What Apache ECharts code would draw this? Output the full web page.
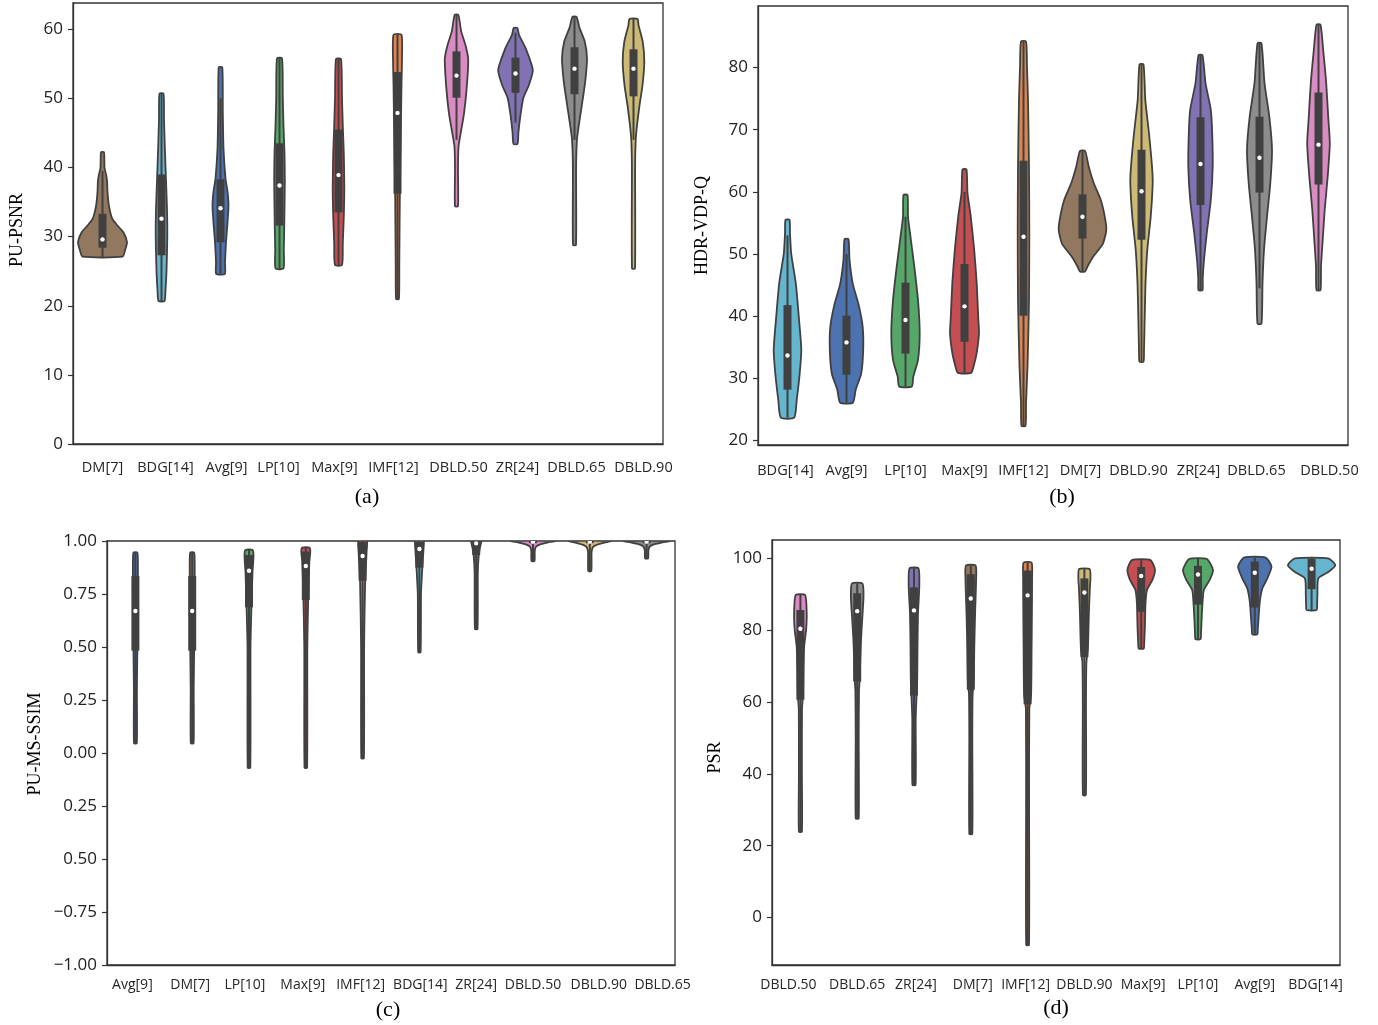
<!DOCTYPE html>
<html><head><meta charset="utf-8">
<script src="https://cdn.jsdelivr.net/npm/echarts@6/dist/echarts.min.js"></script>
<style>html,body{margin:0;padding:0;background:#fff}#c{width:1378px;height:1025px}</style>
</head><body><div id="c"></div>
<script>
// ---------- (a) PU-PSNR ----------
const catsA = ['DM[7]','BDG[14]','Avg[9]','LP[10]','Max[9]','IMF[12]','DBLD.50','ZR[24]','DBLD.65','DBLD.90'];
// [min, whiskerLow, q1, median, q3, whiskerHigh, max]
const statsA = [
  [27.1,27.1,28.4,29.6,33.3,39.5,42.2],
  [20.7,20.7,27.3,32.6,39.0,50.7,50.7],
  [24.6,24.6,29.2,34.1,38.3,50.0,54.5],
  [25.4,25.4,31.6,37.4,43.5,55.8,55.8],
  [25.9,25.9,33.5,38.9,45.5,55.7,55.7],
  [21.0,21.0,36.2,47.9,53.8,59.2,59.2],
  [34.4,44.0,50.1,53.3,56.8,62.1,62.1],
  [43.4,46.5,50.8,53.6,55.9,59.5,60.2],
  [28.8,44.0,50.6,54.3,57.4,61.8,61.8],
  [25.4,44.0,50.3,54.3,57.1,61.5,61.5]
];
// density profile [value, density]
const densA = [
  [[27.1,20],[28.0,22.5],[29.2,24.5],[30.6,21],[31.6,15],[32.6,9.7],[34.6,6.3],[36.5,5],[38.0,4.6],[38.9,3.7],[40.0,2],[42.2,1.5]],
  [[20.7,3],[22.3,4],[25,5],[30,5.8],[34,5.5],[38.9,4.3],[43,3.3],[47,2.5],[50.7,2]],
  [[24.6,4.3],[26.3,4.5],[29.2,5.5],[32,7],[34.5,8],[36.5,7],[38.4,5],[42.7,3],[48,2.3],[54.5,1.8]],
  [[25.4,4],[28,4.3],[32,4.8],[38,5.3],[42,5],[46,4],[50,3.3],[55.8,2.5]],
  [[25.9,3.5],[29,4.3],[33,5.3],[37,5.8],[42,5.3],[46,4.3],[50,3.5],[55.7,2.5]],
  [[21,1.4],[25.8,1.8],[35.5,2.3],[45,3.3],[52,4],[55,4.4],[59.2,4]],
  [[34.4,1.5],[40,1.5],[43,2],[44.4,3.5],[47.8,7.5],[51.7,10.3],[55.7,11.7],[57.7,9],[59.7,4.7],[62.1,1.8]],
  [[43.4,2],[45.2,3],[47.6,5],[50,7.7],[51.9,13.3],[54.1,17.3],[57.3,10],[59.2,3.5],[60.2,1.8]],
  [[28.8,1.5],[40,1.6],[44.1,2.5],[46.1,4.3],[49,7.3],[52.4,10.7],[55.8,12.5],[58.2,10.3],[60.2,5],[61.8,2]],
  [[25.4,1.5],[40,1.6],[44,2.2],[46.1,3.5],[49,6],[51.9,9],[55.3,10.8],[58.2,9.2],[60.6,5],[61.5,4]]
];
const ticksA = [0,10,20,30,40,50,60];

// ---------- (b) HDR-VDP-Q ----------
const catsB = ['BDG[14]','Avg[9]','LP[10]','Max[9]','IMF[12]','DM[7]','DBLD.90','ZR[24]','DBLD.65','DBLD.50'];
const statsB = [
  [23.7,23.7,28.2,33.7,41.8,53.0,55.5],
  [26.1,26.1,30.6,35.8,40.1,50.0,52.4],
  [28.7,28.7,34.0,39.4,45.4,56.0,59.5],
  [30.9,30.9,35.9,41.6,48.4,60.0,63.6],
  [22.4,22.4,40.1,52.8,65.0,84.2,84.2],
  [47.2,47.2,52.5,56.0,59.6,66.6,66.6],
  [32.7,32.7,52.3,60.1,66.8,80.5,80.5],
  [44.2,44.2,57.9,64.5,72.0,82.0,82.0],
  [38.8,44.5,59.9,65.5,72.1,83.9,83.9],
  [44.2,44.2,61.2,67.6,76.0,86.9,86.9]
];
const densB = [
  [[23.7,6.7],[26.5,9.2],[30.8,12.2],[34.6,13.8],[39.9,11.3],[45.3,8.3],[50.1,3.7],[53.3,2.5],[55.5,2]],
  [[26.1,6.3],[28.2,9.2],[30.8,14.7],[34.6,16.7],[38.3,16.2],[41.6,12.5],[45.3,6.2],[49.1,3],[52.4,2]],
  [[28.7,6.3],[30.3,7.8],[33,12.5],[37.3,14.2],[42.6,12.5],[48,8.8],[53.4,4.5],[56,2.5],[59.5,2]],
  [[30.9,6.7],[31.9,9],[34.1,12.2],[37.3,14.5],[39.9,13.7],[45.3,12.2],[50.7,9.7],[56,6.3],[59.8,3],[63.6,2]],
  [[22.4,2],[26,2.5],[31.9,4],[42.6,5.5],[53.4,5.8],[64.1,5.5],[74.8,4.5],[80,3.5],[84.2,2.5]],
  [[47.2,2.5],[48,5],[49.6,10.8],[51.7,20.5],[53.9,23.8],[56,22.3],[58.7,18.3],[61.4,11.3],[64.1,6.2],[66.6,2.5]],
  [[32.7,2],[34.6,2.5],[39.9,3.2],[45.3,4],[50.7,5.8],[56,9.2],[61.4,11.2],[64.1,10.5],[69.4,7.5],[74.8,3.8],[80.5,2]],
  [[44.2,2],[46,2.2],[49.1,3.5],[53.4,6.3],[58.7,10.3],[64.1,12.2],[69.4,11.7],[73.2,10.3],[77.5,5],[82,2]],
  [[38.8,2],[45.3,3],[50.7,4.5],[56,7.5],[61.4,10.8],[66.8,12.5],[72.1,9.8],[77.5,5],[83.9,2]],
  [[44.2,2],[48,2.5],[51.8,4],[57.1,6.2],[62.5,9.2],[67.8,11.3],[72.1,9.7],[77.5,7.7],[82.8,4.7],[86.9,2]]
];
const ticksB = [20,30,40,50,60,70,80];

// ---------- (c) PU-MS-SSIM ----------
const catsC = ['Avg[9]','DM[7]','LP[10]','Max[9]','IMF[12]','BDG[14]','ZR[24]','DBLD.50','DBLD.90','DBLD.65'];
const statsC = [
  [0.046,0.046,0.483,0.670,0.835,0.945,0.945],
  [0.046,0.046,0.483,0.670,0.835,0.945,0.945],
  [-0.069,-0.069,0.687,0.860,0.934,0.958,0.958],
  [-0.069,-0.069,0.722,0.882,0.950,0.969,0.969],
  [-0.025,-0.025,0.813,0.929,0.997,1.0,1.0],
  [0.475,0.475,0.874,0.962,0.997,1.0,1.0],
  [0.585,0.585,0.934,0.989,0.998,1.0,1.0],
  [0.906,0.906,0.990,0.997,1.0,1.0,1.0],
  [0.858,0.858,0.990,0.997,1.0,1.0,1.0],
  [0.918,0.918,0.990,0.997,1.0,1.0,1.0]
];
const densC = [
  [[0.046,1.4],[0.3,1.5],[0.5,2],[0.7,2.5],[0.85,2.5],[0.945,2]],
  [[0.046,1.4],[0.3,1.5],[0.5,2],[0.7,2.5],[0.85,2.5],[0.945,2]],
  [[-0.069,1.3],[0.5,1.5],[0.7,2.5],[0.85,3.5],[0.93,4.5],[0.958,3.5]],
  [[-0.069,1.3],[0.5,1.5],[0.75,2.5],[0.9,3.5],[0.95,4.5],[0.969,3.5]],
  [[-0.025,1.3],[0.5,1.5],[0.8,2.5],[0.95,4],[1.0,4.2]],
  [[0.475,1.2],[0.75,1.6],[0.88,3],[0.97,4.2],[1.0,4.2]],
  [[0.585,1.3],[0.85,1.6],[0.93,2.5],[0.97,3.8],[0.99,4.8],[1.0,5]],
  [[0.906,1.5],[0.95,1.7],[0.965,2.2],[0.975,3.5],[0.985,8],[0.993,15],[1.0,22]],
  [[0.858,1.5],[0.94,1.7],[0.96,2.2],[0.973,3.5],[0.984,8],[0.993,15],[1.0,21]],
  [[0.918,1.5],[0.955,1.8],[0.967,2.4],[0.977,4],[0.986,9],[0.994,16],[1.0,23]]
];
const ticksC = [-1,-0.75,-0.5,-0.25,0,0.25,0.5,0.75,1];
const tickLabelsC = ['\u22121.00','\u22120.75','0.50','0.25','0.00','0.25','0.50','0.75','1.00'];

// ---------- (d) PSR ----------
const catsD = ['DBLD.50','DBLD.65','ZR[24]','DM[7]','IMF[12]','DBLD.90','Max[9]','LP[10]','Avg[9]','BDG[14]'];
const statsD = [
  [23.9,23.9,60.6,80.4,85.6,89.8,89.8],
  [27.6,27.6,65.7,85.3,90.3,93.0,93.0],
  [36.9,36.9,61.8,85.5,91.9,97.2,97.2],
  [23.3,23.3,63.4,88.8,95.6,98.0,98.0],
  [-7.6,-7.6,59.4,89.7,96.6,98.8,98.8],
  [34.1,34.1,72.5,90.5,94.4,97.0,97.0],
  [74.9,74.9,85.1,95.1,97.6,99.5,99.5],
  [77.5,77.5,87.1,95.5,97.9,99.8,99.8],
  [78.8,78.8,86.3,96.0,99.1,100.2,100.2],
  [85.6,85.6,91.4,97.1,99.9,100.0,100.0]
];
const densD = [
  [[23.9,1.5],[40,1.5],[58,1.6],[62,2.6],[68.9,3],[75.4,3.7],[80.1,5.7],[84.7,6.3],[89.8,4.7]],
  [[27.6,1.5],[50,1.5],[63,1.8],[67,2.7],[70.8,3],[77.3,3.8],[83.8,5.2],[89.3,6.3],[93,5.3]],
  [[36.9,1.6],[55,1.7],[62,2.6],[66.1,3.2],[75.4,3.5],[84.7,4],[92.1,5.3],[97.2,4.5]],
  [[23.3,1.5],[50,1.5],[62,1.8],[66,3],[75.4,3.5],[84.7,4.3],[94,5.3],[98,4.8]],
  [[-7.6,1.4],[30,1.5],[58,1.7],[62,3.5],[75,4],[85,4.3],[95,4.5],[98.8,4]],
  [[34.1,1.5],[60,1.6],[71,2],[75,3.5],[85,4.5],[92,5.5],[94,6],[97,5.3]],
  [[74.9,2.5],[76.3,3],[81,3.7],[87.5,4.3],[91.2,5.8],[94,11.2],[96.8,13.8],[99.5,9.2]],
  [[77.5,2.5],[79,3],[82.3,3.5],[87.5,4.5],[91.2,5.8],[94,11.7],[96.8,15],[99.8,8.8]],
  [[78.8,2.5],[80.5,3],[82.3,3.5],[87.9,5],[91.6,7.5],[94.4,12.5],[97.7,16.7],[100.2,10.8]],
  [[85.6,5],[87,5.5],[89.7,5.8],[94.4,6.7],[96.2,16.7],[98.1,23.7],[100,16.7]]
];
const ticksD = [0,20,40,60,80,100];

// ---------- style ----------
const palette = {
  'DM[7]':'#937860','BDG[14]':'#64B5CD','Avg[9]':'#4C72B0','LP[10]':'#55A868','Max[9]':'#C44E52',
  'IMF[12]':'#DD8452','DBLD.50':'#DA8BC3','ZR[24]':'#8172B3','DBLD.65':'#8C8C8C','DBLD.90':'#CCB974'
};
// horizontal nudges (px) of the category labels, as typeset in the original figure
const labelNudge = [
  [0,4,6,-1,-4,-4,2,2,2,10],
  [-2,0,0,0,0,-2,-3,-2,-3,11],
  [-3,-2,-4,-3,-2,1,0,0,9,16],
  [-12,0,2,2,-2,0,2,0,0,4]
];
const EDGE = '#404040';
const SANS = "'Open Sans', 'Noto Sans', sans-serif";
const SERIF = "'Liberation Serif', 'DejaVu Serif', serif";

function makeRender(cats, stats, dens, densPerBand) {
  return function (params, api) {
    const i = params.dataIndex;
    const band = api.size([1, 0])[0];
    const s = stats[i];
    const cx = api.coord([i, s[3]])[0];
    const yv = v => api.coord([i, v])[1];
    const left = [], right = [];
    dens[i].forEach(function (p) {
      const hw = p[1] * densPerBand * band;
      const y = yv(p[0]);
      left.push([cx - hw, y]);
      right.push([cx + hw, y]);
    });
    const poly = left.concat(right.reverse());
    return {
      type: 'group',
      children: [
        { type: 'polygon', shape: { points: poly, smooth: 0.2 },
          style: { fill: palette[cats[i]], stroke: EDGE, lineWidth: 1.8 } },
        { type: 'line', shape: { x1: cx, y1: yv(s[1]), x2: cx, y2: yv(s[5]) },
          style: { stroke: EDGE, lineWidth: 2 } },
        { type: 'rect', shape: { x: cx - 4, y: yv(s[4]), width: 8, height: yv(s[2]) - yv(s[4]) },
          style: { fill: EDGE } },
        { type: 'circle', shape: { cx: cx, cy: yv(s[3]), r: 2.2 }, style: { fill: '#ffffff' } }
      ]
    };
  };
}

function xAxisCfg(gi, cats, margin, fs) {
  const rich = {};
  labelNudge[gi].forEach(function (n, i) {
    rich['n' + i] = { fontFamily: SANS, fontSize: fs, color: '#262626',
      padding: n >= 0 ? [0, 0, 0, 2 * n] : [0, -2 * n, 0, 0] };
  });
  return {
    type: 'category', gridIndex: gi, data: cats, boundaryGap: true,
    axisLine: { onZero: false, lineStyle: { color: '#333', width: 1.3 } },
    axisTick: { alignWithLabel: true, length: 5, lineStyle: { color: '#333', width: 1.2 } },
    axisLabel: { interval: 0, margin: margin, fontFamily: SANS, fontSize: fs, color: '#262626',
      formatter: function (v, i) { return '{n' + i + '|' + v + '}'; }, rich: rich },
    splitLine: { show: false }
  };
}
function yAxisCfg(gi, min, max, ticks, fmt, name, nameGap, namePad) {
  return {
    type: 'value', gridIndex: gi, min: min, max: max,
    name: name, nameLocation: 'middle', nameGap: nameGap,
    nameTextStyle: { fontFamily: SERIF, fontSize: 18, color: '#000', padding: namePad },
    axisLine: { show: true, onZero: false, lineStyle: { color: '#333', width: 1.3 } },
    axisTick: { show: true, length: 5, customValues: ticks, lineStyle: { color: '#333', width: 1.2 } },
    axisLabel: { customValues: ticks, formatter: fmt, margin: 10, fontFamily: SANS, fontSize: 17, color: '#222' },
    splitLine: { show: false }
  };
}
function gridCfg(l, t, w, h) {
  return { left: l, top: t, width: w, height: h, show: true, borderColor: '#333', borderWidth: 1.3, backgroundColor: '#fff' };
}
function series(gi, cats, stats, dens, k) {
  return {
    type: 'custom', xAxisIndex: gi, yAxisIndex: gi,
    renderItem: makeRender(cats, stats, dens, k),
    data: cats.map((c, i) => [i, stats[i][3]]),
    encode: { x: 0, y: 1 }, clip: true, silent: true
  };
}

const chart = echarts.init(document.getElementById('c'), null, { renderer: 'canvas' });
chart.setOption({
  animation: false,
  backgroundColor: '#fff',
  grid: [gridCfg(73, 3, 590, 441), gridCfg(758, 6, 590, 439), gridCfg(107, 541, 568, 424), gridCfg(772, 540, 568, 425)],
  xAxis: [xAxisCfg(0, catsA, 16, 14.5), xAxisCfg(1, catsB, 18, 14.5), xAxisCfg(2, catsC, 13, 14), xAxisCfg(3, catsD, 13, 14)],
  yAxis: [
    yAxisCfg(0, 0, 63.8, ticksA, v => String(v), 'PU-PSNR', 47, [0, 13, 0, 0]),
    yAxisCfg(1, 19.3, 89.9, ticksB, v => String(v), 'HDR-VDP-Q', 47, 0),
    yAxisCfg(2, -1, 1, ticksC, v => tickLabelsC[ticksC.indexOf(Math.round(v * 100) / 100)], 'PU-MS-SSIM', 63, [0, 0, 0, 18]),
    yAxisCfg(3, -13.2, 105.1, ticksD, v => String(v), 'PSR', 48, [0, 10, 0, 0])
  ],
  series: [
    series(0, catsA, statsA, densA, 1 / 59),
    series(1, catsB, statsB, densB, 1 / 59),
    series(2, catsC, statsC, densC, 1 / 56.8),
    series(3, catsD, statsD, densD, 1 / 56.8)
  ],
  graphic: [
    { type: 'text', x: 367, y: 497, style: { text: '(a)', font: '22px ' + SERIF, fill: '#000', textAlign: 'center', textVerticalAlign: 'middle' } },
    { type: 'text', x: 1062, y: 497, style: { text: '(b)', font: '22px ' + SERIF, fill: '#000', textAlign: 'center', textVerticalAlign: 'middle' } },
    { type: 'text', x: 388, y: 1010, style: { text: '(c)', font: '22px ' + SERIF, fill: '#000', textAlign: 'center', textVerticalAlign: 'middle' } },
    { type: 'text', x: 1056, y: 1008, style: { text: '(d)', font: '22px ' + SERIF, fill: '#000', textAlign: 'center', textVerticalAlign: 'middle' } }
  ]
});
</script>
</body></html>
